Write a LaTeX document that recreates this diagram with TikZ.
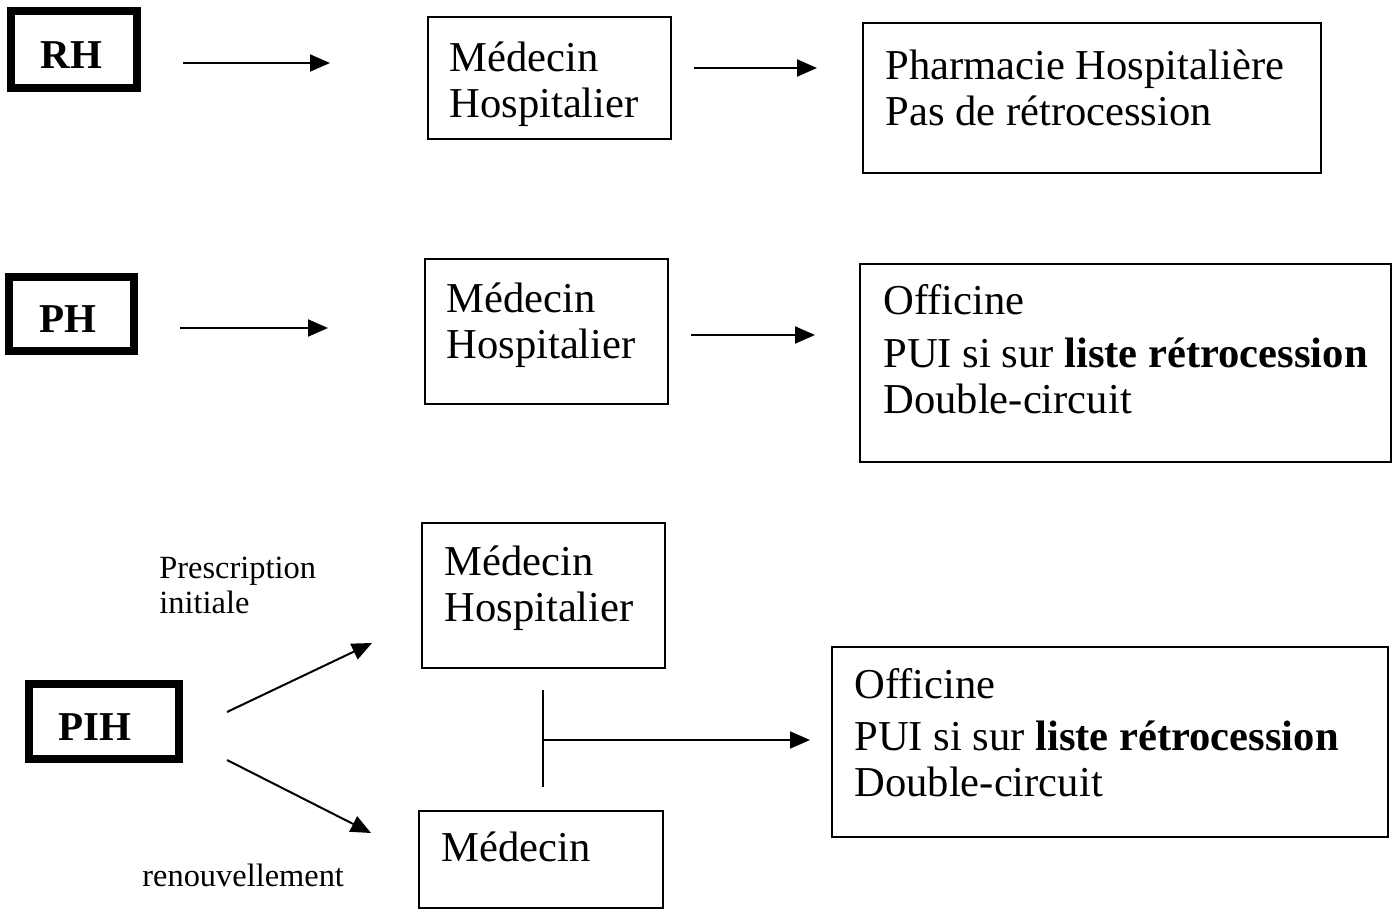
\documentclass[tikz,border=0pt]{standalone}
\usepackage{fontspec}
\setmainfont{Liberation Serif}
\usetikzlibrary{arrows.meta}
\tikzset{
  box/.style={draw, line width=1pt, rectangle, inner sep=0pt, outer sep=0pt, anchor=north west},
  thickbox/.style={draw, line width=4pt, rectangle, inner sep=0pt, outer sep=0pt, font=\fontsize{20.5}{24}\selectfont\bfseries},
  txt/.style={anchor=base west, inner sep=0pt, align=left, font=\fontsize{21.3}{23}\selectfont},
  small/.style={anchor=base west, inner sep=0pt, align=left, font=\fontsize{16.2}{17.5}\selectfont},
  arr/.style={line width=1pt, -{Triangle[length=10pt, width=8.5pt]}},
  ln/.style={line width=1pt}
}
\newcommand{\lowtext}[2]{\hspace*{#1}\raisebox{-9.5pt}[0pt][0pt]{#2}\hspace*{-#1}}
\begin{document}
\begin{tikzpicture}[x=0.5pt, y=-0.5pt]
\useasboundingbox (0,0) rectangle (1396,914);
% left thick boxes
\node[thickbox, minimum width=63pt, minimum height=38.5pt] (rh) at (74,49.5) {\lowtext{-1.25pt}{RH}};
\node[thickbox, minimum width=62.5pt, minimum height=37pt] (ph) at (71.5,314) {\lowtext{-2pt}{PH}};
\node[thickbox, minimum width=75pt, minimum height=37.5pt] (pih) at (104,721.5) {\lowtext{-4.5pt}{PIH}};
% boxes
\node[box, minimum width=121.5pt, minimum height=61pt] (m1) at (428,17) {};
\node[box, minimum width=229pt, minimum height=75pt] (p1) at (863,23) {};
\node[box, minimum width=121.5pt, minimum height=72.5pt] (m2) at (425,259) {};
\node[box, minimum width=265.5pt, minimum height=99pt] (o1) at (860,264) {};
\node[box, minimum width=121.5pt, minimum height=72.5pt] (m3) at (422,523) {};
\node[box, minimum width=122pt, minimum height=48.5pt] (m4) at (419,811) {};
\node[box, minimum width=278pt, minimum height=95pt] (o2) at (832,647) {};
% texts (anchored at the baseline of the last line)
\node[txt] (t1) at (449,118) {Médecin\\Hospitalier};
\node[txt] (t2) at (885,126) {Pharmacie Hospitalière\\Pas de rétrocession};
\node[txt] (t3) at (446,358) {Médecin\\Hospitalier};
\node[txt] (t4) at (883,413) {Officine\\[3pt]PUI si sur \textbf{liste rétrocession}\\Double-circuit};
\node[txt] (t5) at (444,621) {Médecin\\Hospitalier};
\node[txt] (t6) at (854,796) {Officine\\[3pt]PUI si sur \textbf{liste rétrocession}\\Double-circuit};
\node[txt] (t7) at (441,861) {Médecin};
\node[small] (l1) at (159,613) {Prescription\\initiale};
\node[small] (l2) at (142,886) {renouvellement};
% connector ends
\coordinate (a1s) at (183,63); \coordinate (a1e) at (330,63);
\coordinate (a2s) at (694,68); \coordinate (a2e) at (817,68);
\coordinate (a3s) at (180,328); \coordinate (a3e) at (328,328);
\coordinate (a4s) at (691,335); \coordinate (a4e) at (815,335);
\coordinate (a5s) at (227,712); \coordinate (a5e) at (372,643);
\coordinate (a6s) at (227,760); \coordinate (a6e) at (371,833);
\coordinate (vt) at (543,690); \coordinate (vb) at (543,787);
\coordinate (hj) at (543,740); \coordinate (he) at (810,740);
\draw[arr] (a1s) -- (a1e);
\draw[arr] (a2s) -- (a2e);
\draw[arr] (a3s) -- (a3e);
\draw[arr] (a4s) -- (a4e);
\draw[arr] (a5s) -- (a5e);
\draw[arr] (a6s) -- (a6e);
\draw[ln] (vt) -- (vb);
\draw[arr] (hj) -- (he);
\end{tikzpicture}
\end{document}
